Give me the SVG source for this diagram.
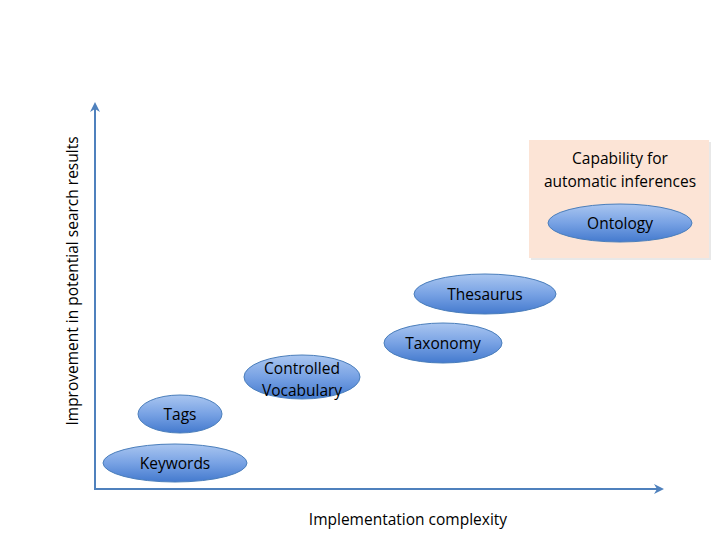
<svg xmlns="http://www.w3.org/2000/svg" width="720" height="540" viewBox="0 0 720 540">
<style>
text{font-family:"Open Sans","Liberation Sans",sans-serif;font-size:15.5px;fill:#000;text-anchor:middle}
.n ellipse{fill:url(#g);stroke:#4a7ebb;stroke-width:1}
.ax{stroke:#4f81bd;stroke-width:2;fill:none}
</style>
<defs>
<linearGradient id="g" x1="0" y1="0" x2="0" y2="1">
<stop offset="0" stop-color="#aac6f0"/>
<stop offset="0.5" stop-color="#78a2e4"/>
<stop offset="1" stop-color="#447ace"/>
</linearGradient>
<marker id="ah" viewBox="0 0 10 10" refX="8" refY="5" markerWidth="5" markerHeight="5" orient="auto" markerUnits="strokeWidth">
<path d="M0,0 L10,5 L0,10 L3,5 Z" fill="#4f81bd"/>
</marker>
</defs>
<rect width="720" height="540" fill="#fff"/>
<g id="capability">
<rect x="531" y="142" width="180" height="118" fill="#d9d9d9" opacity="0.6"/>
<rect x="529" y="140" width="180" height="118" fill="#fce4d6"/>
<text x="620" y="164">Capability for</text>
<text x="620" y="187">automatic inferences</text>
</g>
<g id="connectors">
<line class="ax" x1="95" y1="489" x2="95" y2="104" marker-end="url(#ah)"/>
<line class="ax" x1="94" y1="489" x2="662" y2="489" marker-end="url(#ah)"/>
</g>
<g id="keywords" class="n"><ellipse cx="175" cy="463" rx="72" ry="19"/><text x="175" y="469">Keywords</text></g>
<g id="tags" class="n"><ellipse cx="180" cy="414" rx="42" ry="19"/><text x="180" y="420">Tags</text></g>
<g id="controlled-vocabulary" class="n"><ellipse cx="302" cy="377" rx="58" ry="22"/><text x="302" y="374">Controlled</text><text x="302" y="396">Vocabulary</text></g>
<g id="taxonomy" class="n"><ellipse cx="443" cy="343" rx="59" ry="20"/><text x="443" y="349">Taxonomy</text></g>
<g id="thesaurus" class="n"><ellipse cx="485" cy="294" rx="71" ry="20"/><text x="485" y="300">Thesaurus</text></g>
<g id="ontology" class="n"><ellipse cx="620" cy="223" rx="72" ry="19"/><text x="620" y="229">Ontology</text></g>
<text x="408" y="525">Implementation complexity</text>
<text transform="translate(78,281) rotate(-90)">Improvement in potential search results</text>
</svg>
